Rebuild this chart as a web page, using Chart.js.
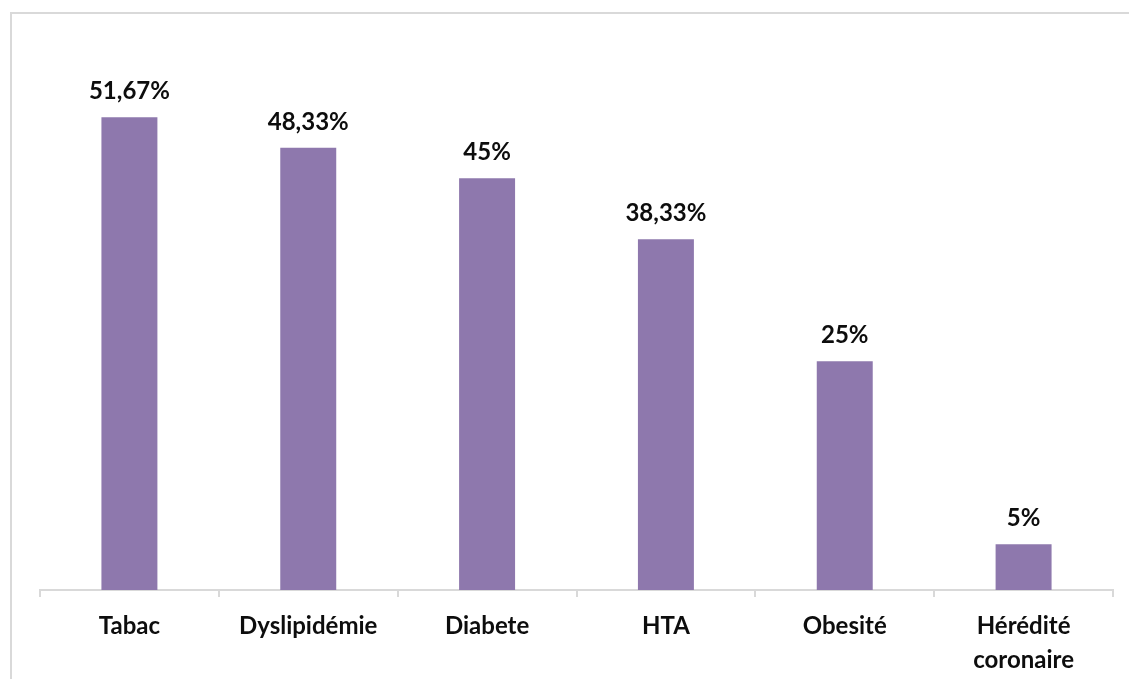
<!DOCTYPE html>
<html>
<head>
<meta charset="utf-8">
<title>Facteurs de risque</title>
<script src="https://cdn.jsdelivr.net/npm/chart.js@4.4.1/dist/chart.umd.min.js"></script>
<style>
    html, body { margin: 0; padding: 0; background: #fff; }
    #wrap { position: relative; width: 1129px; height: 679px; }
</style>
</head>
<body>
<div id="wrap"><canvas id="riskChart" width="1129" height="679"></canvas></div>
<script>
// Risk factors and their share (%)
const categories = ['Tabac', 'Dyslipidémie', 'Diabete', 'HTA', 'Obesité', ['Hérédité', 'coronaire']];
const values = [51.67, 48.33, 45, 38.33, 25, 5];
const valueLabels = ['51,67%', '48,33%', '45%', '38,33%', '25%', '5%'];

const FONT = 'Lato, "Open Sans", sans-serif';

// Light frame around the chart (top and left edges)
const framePlugin = {
    id: 'frame',
    beforeDraw(chart) {
        const ctx = chart.ctx;
        ctx.save();
        ctx.strokeStyle = '#d9d9d9';
        ctx.lineWidth = 2;
        ctx.beginPath();
        ctx.moveTo(11, 679);
        ctx.lineTo(11, 13);
        ctx.lineTo(1129, 13);
        ctx.stroke();
        ctx.restore();
    }
};

// Value labels above each bar
const valueLabelPlugin = {
    id: 'valueLabels',
    afterDatasetsDraw(chart) {
        const ctx = chart.ctx;
        const meta = chart.getDatasetMeta(0);
        ctx.save();
        ctx.font = 'bold 24px ' + FONT;
        ctx.fillStyle = '#0d0d0d';
        ctx.textAlign = 'center';
        ctx.textBaseline = 'alphabetic';
        meta.data.forEach((bar, i) => {
            ctx.fillText(valueLabels[i], bar.x, bar.y - 18);
        });
        ctx.restore();
    }
};

document.addEventListener('DOMContentLoaded', function () {
    const ctx = document.getElementById('riskChart');
    new Chart(ctx, {
        type: 'bar',
        data: {
            labels: categories,
            datasets: [{
                data: values,
                backgroundColor: '#8e78ad',
                borderWidth: 0,
                barPercentage: 0.313,
                categoryPercentage: 1
            }]
        },
        options: {
            responsive: false,
            animation: false,
            layout: {
                padding: { left: 40, right: 16, top: 41, bottom: 0 }
            },
            plugins: {
                legend: { display: false },
                tooltip: { enabled: false }
            },
            scales: {
                y: {
                    display: false,
                    min: 0,
                    max: 60
                },
                x: {
                    afterFit: function (scale) { scale.height = 89; },
                    border: { color: '#d9d9d9', width: 2 },
                    grid: {
                        offset: true,
                        drawOnChartArea: false,
                        drawTicks: true,
                        tickLength: 7,
                        tickColor: '#d9d9d9',
                        lineWidth: 2
                    },
                    ticks: {
                        color: '#0d0d0d',
                        padding: 12,
                        maxRotation: 0,
                        font: { family: FONT, size: 24, weight: 'bold', lineHeight: 1.42 }
                    }
                }
            }
        },
        plugins: [framePlugin, valueLabelPlugin]
    });
});
</script>
</body>
</html>
